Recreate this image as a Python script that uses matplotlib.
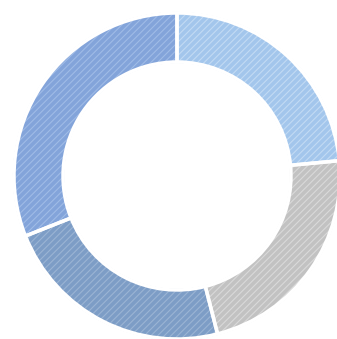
import matplotlib
matplotlib.use("Agg")
import matplotlib.pyplot as plt

# segment sizes (clockwise from 12 o'clock)
labels = ["A", "B", "C", "D"]
values = [23.5, 22.5, 23.0, 31.0]
colors = ["#a3c6ec", "#c2c2c2", "#7d9dc6", "#83a4da"]
hatch_colors = ["#c2daf4", "#d9d9d9", "#9bb4d4", "#a0bbe6"]
edge_colors = ["#7fa9dc", "#a9a9a9", "#6685b0", "#6a8ccc"]

plt.rcParams["hatch.linewidth"] = 0.8

fig = plt.figure(figsize=(3.37, 3.39), dpi=100)
ax = fig.add_axes([0, 0, 1, 1])

cx, cy, R, W = 177, 163, 163, 49

# base fill with a soft darker rim
wedges, _ = ax.pie(values, colors=colors, startangle=90, counterclock=False,
                   center=(cx, cy), radius=R, frame=True,
                   wedgeprops=dict(width=W, linewidth=1.5))
for w, ec in zip(wedges, edge_colors):
    w.set_edgecolor(ec)

# hatch layer on top
wedges, _ = ax.pie(values, startangle=90, counterclock=False,
                   center=(cx, cy), radius=R, frame=True,
                   wedgeprops=dict(width=W, linewidth=0))
for w, hc in zip(wedges, hatch_colors):
    w.set_facecolor("none")
    w.set_edgecolor(hc)
    w.set_hatch("/////")

# white separators between segments
ax.pie(values, colors=["none"] * len(values), startangle=90, counterclock=False,
       center=(cx, cy), radius=R, frame=True,
       wedgeprops=dict(width=W, edgecolor="white", linewidth=2.5))

ax.set_xlim(0, 337)
ax.set_ylim(0, 339)
ax.axis("off")
fig.savefig("out.png", dpi=100)
